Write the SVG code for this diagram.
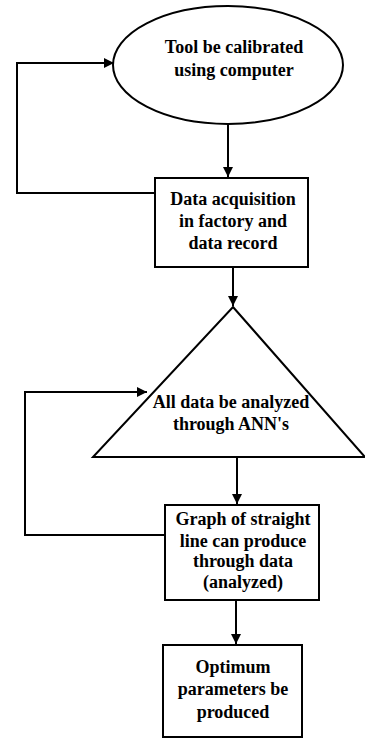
<svg xmlns="http://www.w3.org/2000/svg" width="365" height="738" viewBox="0 0 365 738">
<style>
.shape{fill:#fff;stroke:#000;stroke-width:2}
.conn{fill:none;stroke:#000;stroke-width:2}
text{font-family:"Liberation Serif","Times New Roman",serif;font-weight:bold;font-size:18px;fill:#000;text-anchor:middle}
</style>
<defs>
<marker id="arr" markerWidth="10" markerHeight="10" refX="10" refY="5" orient="auto" markerUnits="userSpaceOnUse">
<path d="M0,0 L10,5 L0,10 Z" fill="#000"/>
</marker>
</defs>
<g id="n1">
<ellipse class="shape" cx="228" cy="65" rx="115" ry="59"/>
<text x="234" y="53">Tool be calibrated</text>
<text x="234" y="76">using computer</text>
</g>
<g id="n2">
<rect class="shape" x="155" y="178" width="153" height="89"/>
<text x="233" y="205">Data acquisition</text>
<text x="233" y="227">in factory and</text>
<text x="233" y="249">data record</text>
</g>
<g id="n3">
<polygon class="shape" points="233,307 365,457 93,457"/>
<text x="231" y="408">All data be analyzed</text>
<text x="231" y="430">through ANN's</text>
</g>
<g id="n4">
<rect class="shape" x="165" y="505" width="154" height="95"/>
<text x="243" y="525">Graph of straight</text>
<text x="243" y="547">line can produce</text>
<text x="243" y="567">through data</text>
<text x="243" y="588">(analyzed)</text>
</g>
<g id="n5">
<rect class="shape" x="163" y="645" width="139" height="92"/>
<text x="233" y="673">Optimum</text>
<text x="233" y="695">parameters be</text>
<text x="233" y="718">produced</text>
</g>
<g id="connectors">
<path class="conn" d="M228,124 L228,177" marker-end="url(#arr)"/>
<path class="conn" d="M155,193 L17,193 L17,63 L114,63" marker-end="url(#arr)"/>
<path class="conn" d="M233,267 L233,306" marker-end="url(#arr)"/>
<path class="conn" d="M237,457 L237,504" marker-end="url(#arr)"/>
<path class="conn" d="M165,535 L25,535 L25,392 L147,392" marker-end="url(#arr)"/>
<path class="conn" d="M236,600 L236,644" marker-end="url(#arr)"/>
</g>
</svg>
